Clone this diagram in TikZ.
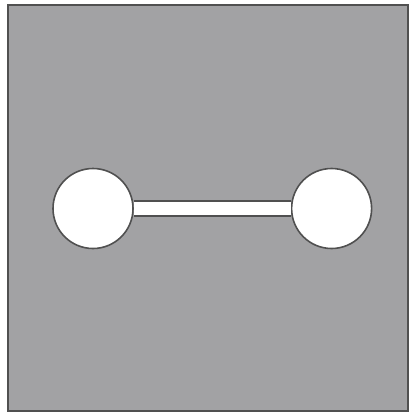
\documentclass[tikz,border=0pt]{standalone}
\usepackage{tikz}
\usetikzlibrary{positioning,calc}

\definecolor{panelgrey}{HTML}{A2A2A4}
\definecolor{edgegrey}{HTML}{505050}

\begin{document}
\begin{tikzpicture}[x=1pt, y=-1pt,
    ball/.style={draw=edgegrey, circle, fill=white, line width=1.6pt, minimum size=80pt, inner sep=0pt},
    rod/.style={draw=edgegrey, line width=1.6pt, double=white, double distance=13pt}
]
\useasboundingbox (0,0) rectangle (414,418);
\draw[edgegrey, fill=panelgrey, line width=2.6pt] (8,5) rectangle (408,411);
\node[ball] (left) at (93,208.5) {};
\node[ball, right=157pt of left] (right) {};
\draw[rod] (left) -- (right);
\end{tikzpicture}
\end{document}
